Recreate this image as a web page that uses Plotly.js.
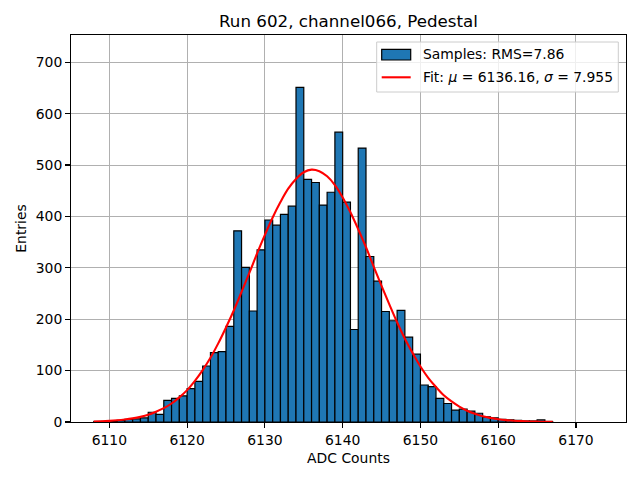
<!DOCTYPE html>
<html>
<head>
<meta charset="utf-8">
<script src="https://cdn.plot.ly/plotly-3.0.1.min.js"></script>
<style>html,body{margin:0;padding:0;background:#fff;}#chart{width:640px;height:480px;}</style>
</head>
<body>
<div id="chart"></div>
<script>
// Histogram bins (left edges, width 1 ADC count) and entries
var binLeft = [6108,6109,6110,6111,6112,6113,6114,6115,6116,6117,6118,6119,6120,6121,6122,6123,6124,6125,6126,6127,6128,6129,6130,6131,6132,6133,6134,6135,6136,6137,6138,6139,6140,6141,6142,6143,6144,6145,6146,6147,6148,6149,6150,6151,6152,6153,6154,6155,6156,6157,6158,6159,6160,6161,6162,6163,6164,6165,6166];
var counts  = [1,1,2,3,5,6,8,19,15,42,46,51,65,79,109,135,137,186,372,301,216,335,393,383,404,420,651,472,466,422,447,564,428,180,533,322,274,215,197,217,165,132,72,69,46,36,23,25,21,17,10,8,5,4,3,2,2,4,1];

// Fit curve points
var fitX = [6108,6109,6110,6111,6112,6113,6114,6115,6116,6117,6118,6119,6120,6121,6122,6123,6124,6125,6126,6127,6128,6129,6130,6131,6132,6133,6134,6135,6136,6137,6138,6139,6140,6141,6142,6143,6144,6145,6146,6147,6148,6149,6150,6151,6152,6153,6154,6155,6156,6157,6158,6159,6160,6161,6162,6163,6164,6165,6166,6167];
var fitY = [0.9,1.4,2.2,3.3,4.9,7.1,10,14,20,27,36,48,62,80,101,125,153,184,217,253,290,328,364,398,428,454,473,486,491,488,478,461,437,408,375,340,302,265,229,194,162,134,108,86,68,52,40,30,22,16,11,8,5.5,3.7,2.5,1.7,1.1,0.7,0.4,0.3];

var xTicks = [6110,6120,6130,6140,6150,6160,6170];
var yTicks = [0,100,200,300,400,500,600,700];

var titleText = 'Run 602, channel066, Pedestal';
var histName = 'Samples: RMS=7.86';
var fitName = 'Fit: <i>\u03bc</i> = 6136.16, <i>\u03c3</i> = 7.955';

var font = 'DejaVu Sans, Liberation Sans, sans-serif';

var traces = [
  {
    type: 'bar', x: binLeft, y: counts, offset: 0, width: 1,
    name: histName,
    marker: {color: '#1f77b4', line: {color: '#000000', width: 1.2}},
    hoverinfo: 'x+y'
  },
  {
    type: 'scatter', mode: 'lines', x: fitX, y: fitY,
    name: fitName, line: {color: '#ff0000', width: 2.1, shape: 'spline'}
  }
];

function px2x(p){ return (p - 71) / 555; }
function px2y(p){ return (422 - p) / 387; }

var layout = {
  width: 640, height: 480,
  margin: {l: 71, r: 14, t: 35, b: 58, pad: 0},
  paper_bgcolor: '#ffffff', plot_bgcolor: '#ffffff',
  showlegend: false,
  bargap: 0,
  font: {family: font, size: 13.9, color: '#000000'},
  title: {text: titleText, x: 348.5/640, xanchor: 'center', y: 1 - 21.5/480, yanchor: 'middle',
          font: {family: font, size: 16.7, color: '#000000'}},
  xaxis: {
    range: [6105.07, 6176.43], tickvals: xTicks, ticktext: xTicks.map(String),
    showgrid: true, gridcolor: '#b0b0b0', gridwidth: 1, zeroline: false,
    showline: true, linecolor: '#000000', linewidth: 1.1, mirror: true,
    ticks: 'outside', ticklen: 4.9, tickwidth: 1.1, tickcolor: '#000000',
    tickfont: {family: font, size: 13.9, color: '#000000'},
    title: {text: 'ADC Counts', font: {family: font, size: 13.9, color: '#000000'}, standoff: 6},
    layer: 'above traces', automargin: false
  },
  yaxis: {
    range: [0, 753], tickvals: yTicks, ticktext: yTicks.map(String),
    showgrid: true, gridcolor: '#b0b0b0', gridwidth: 1, zeroline: false,
    showline: true, linecolor: '#000000', linewidth: 1.1, mirror: true,
    ticks: 'outside', ticklen: 4.9, tickwidth: 1.1, tickcolor: '#000000',
    tickfont: {family: font, size: 13.9, color: '#000000'},
    title: {text: 'Entries', font: {family: font, size: 13.9, color: '#000000'}, standoff: 5},
    layer: 'above traces', automargin: false
  },
  shapes: [
    {type: 'rect', xref: 'paper', yref: 'paper', layer: 'above',
     x0: px2x(376.7), x1: px2x(618.3), y0: px2y(92), y1: px2y(42),
     fillcolor: 'rgba(255,255,255,0.8)', line: {color: '#cccccc', width: 1}},
    {type: 'rect', xref: 'paper', yref: 'paper', layer: 'above',
     x0: px2x(381.7), x1: px2x(410.7), y0: px2y(60), y1: px2y(49.3),
     fillcolor: '#1f77b4', line: {color: '#000000', width: 1.2}},
    {type: 'line', xref: 'paper', yref: 'paper', layer: 'above',
     x0: px2x(381.7), x1: px2x(410.7), y0: px2y(77.3), y1: px2y(77.3),
     line: {color: '#ff0000', width: 2.1}}
  ],
  annotations: [
    {xref: 'paper', yref: 'paper', x: px2x(421), y: px2y(54.5), xanchor: 'left', yanchor: 'middle',
     text: histName, showarrow: false, font: {family: font, size: 13.9, color: '#000000'}},
    {xref: 'paper', yref: 'paper', x: px2x(421), y: px2y(77), xanchor: 'left', yanchor: 'middle',
     text: fitName, showarrow: false, font: {family: font, size: 13.9, color: '#000000'}}
  ]
};

Plotly.newPlot('chart', traces, layout, {displayModeBar: false, staticPlot: true});
</script>
</body>
</html>
